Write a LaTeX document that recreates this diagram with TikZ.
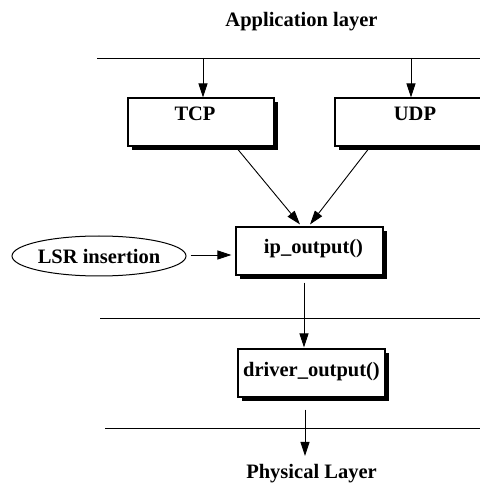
\documentclass[tikz,border=0pt]{standalone}
\usepackage{fontspec}
\setmainfont{Liberation Serif}
\usetikzlibrary{arrows.meta,shadows,shapes.geometric}
\begin{document}
\begin{tikzpicture}[x=1pt,y=1pt,
  font=\fontsize{20.5pt}{24pt}\selectfont\bfseries,
  layerline/.style={line width=0.8pt},
  conn/.style={line width=0.9pt,-{Triangle[length=14pt,width=9pt]}},
  procbox/.style={draw,line width=1.1pt,fill=white,minimum height=48pt,inner sep=0pt,
    text height=14pt,
    drop shadow={shadow xshift=4pt,shadow yshift=-4pt,fill=black,opacity=1}},
  oval/.style={ellipse,draw,line width=1pt,minimum width=174pt,minimum height=40pt,inner sep=0pt}]
\useasboundingbox (0,0) rectangle (480,483);
% layers
\node[anchor=base] (app) at (301.5,456) {Application layer};
\node[anchor=base] (phys) at (311.5,4.5) {Physical Layer};
\coordinate (t1) at (97,425); \coordinate (t2) at (480,425);
\coordinate (m1) at (100,165); \coordinate (m2) at (480,165);
\coordinate (b1) at (105,55);  \coordinate (b2) at (480,55);
\draw[layerline] (t1) -- (t2);
\draw[layerline] (m1) -- (m2);
\draw[layerline] (b1) -- (b2);
% boxes
\node[procbox,minimum width=146pt,text depth=17pt] (tcp) at (201,361) {\kern-12pt TCP};
\node[procbox,minimum width=160pt,text depth=17pt] (udp) at (415,361) {UDP};
\node[procbox,minimum width=147pt,text depth=9pt] (ip) at (309.5,232) {\kern8pt ip\_output()};
\node[procbox,minimum width=147pt,text depth=7pt] (drv) at (311.5,110) {driver\_output()};
\node[oval] (lsr) at (99,227) {LSR insertion};
% connectors
\coordinate (a1) at (203,425);
\coordinate (a2) at (411,425);
\draw[conn] (a1) -- (a1 |- tcp.north);
\draw[conn] (a2) -- (a2 |- udp.north);
\draw[conn] ([shift={(37,-3)}]tcp.south) -- ([shift={(-9.5,2)}]ip.north);
\draw[conn] ([shift={(-47,-3)}]udp.south) -- ([shift={(0.5,2)}]ip.north);
\draw[conn,shorten <=4pt,shorten >=4pt] ([yshift=1pt]lsr.east) -- ([yshift=1pt]lsr.east -| ip.west);
\draw[conn] ([shift={(-5.5,-7)}]ip.south) -- ([shift={(-5.5,1)}]ip.south |- drv.north);
\coordinate (pt) at (305,27);
\draw[conn] ([shift={(-6.5,-12)}]drv.south) -- (pt);
\end{tikzpicture}
\end{document}
